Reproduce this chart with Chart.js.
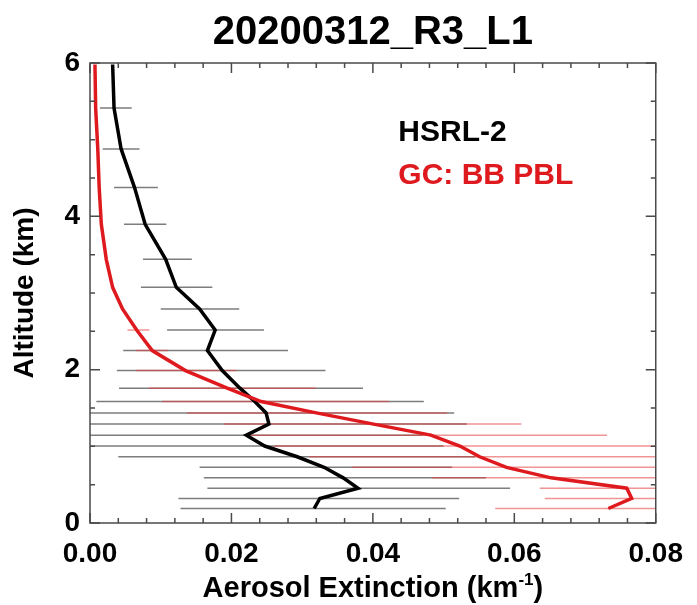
<!DOCTYPE html>
<html>
<head>
<meta charset="utf-8">
<script src="https://cdn.jsdelivr.net/npm/chart.js@4.4.1/dist/chart.umd.min.js"></script>
<style>
  html, body { margin: 0; padding: 0; background: #fff; }
  #wrap { width: 697px; height: 605px; }
</style>
</head>
<body>
<div id="wrap"><canvas id="profileChart" width="697" height="605"></canvas></div>
<script>
// flight / leg name shown as title
var chartTitle = '20200312_R3_L1';

// model level mid altitudes (km)
var altitudes = [0.189, 0.320, 0.454, 0.589, 0.726, 0.864, 1.004, 1.146, 1.290, 1.436, 1.584, 1.759,
                 1.988, 2.249, 2.517, 2.792, 3.074, 3.439, 3.896, 4.375, 4.879, 5.413, 5.980];

// HSRL-2 mean extinction and spread (km-1)
var hsrlExt  = [0.0317, 0.0325, 0.0379, 0.0358, 0.0331, 0.0293, 0.0247, 0.0221, 0.0253, 0.0249, 0.0233, 0.0212,
                0.0187, 0.0166, 0.0177, 0.0155, 0.0122, 0.0107, 0.0078, 0.0063, 0.0044, 0.0034, 0.0032];
var hsrlLow  = [0.0128, 0.0125, 0.0166, 0.0161, 0.0155, 0.0040, 0.0001, -0.0020, -0.0020, -0.0020, 0.0009, 0.0041,
                0.0038, 0.0047, 0.0109, 0.0100, 0.0072, 0.0075, 0.0048, 0.0034, 0.0018, 0.0014, null];
var hsrlHigh = [0.0503, 0.0522, 0.0594, 0.0560, 0.0512, 0.0545, 0.0500, 0.0470, 0.0533, 0.0515, 0.0472, 0.0386,
                0.0333, 0.0280, 0.0246, 0.0211, 0.0173, 0.0144, 0.0108, 0.0096, 0.0070, 0.0059, null];

// GEOS-Chem BB PBL run
var gcExt  = [0.0733, 0.0766, 0.0759, 0.0652, 0.0589, 0.0551, 0.0523, 0.0482, 0.0401, 0.0320, 0.0242, 0.0194,
              0.0135, 0.0088, 0.0066, 0.0046, 0.0032, 0.0023, 0.0016, 0.0013, 0.0011, 0.0008, 0.0007];
var gcLow  = [0.0573, 0.0643, 0.0636, 0.0484, 0.0370, 0.0310, 0.0260, 0.0225, 0.0190, 0.0137, 0.0102, 0.0083,
              0.0065, 0.0065, 0.0053, null, null, null, null, null, null, null, null];
var gcHigh = [0.0850, 0.0850, 0.0850, 0.0850, 0.0850, 0.0850, 0.0850, 0.0731, 0.0610, 0.0505, 0.0423, 0.0319,
              0.0207, 0.0110, 0.0084, null, null, null, null, null, null, null, null];

var xTicks = [0, 0.02, 0.04, 0.06, 0.08];
var yTicks = [0, 2, 4, 6];

var FONT = "'Liberation Sans', Arial, Helvetica, sans-serif";
var RED = 'rgb(222, 26, 30)';

function profile(values) {
    return altitudes.map(function (a, i) { return { x: values[i], y: a }; });
}

// each bar is two points followed by a gap
function bars(lo, hi) {
    var pts = [];
    altitudes.forEach(function (a, i) {
        if (lo[i] === null) return;
        pts.push({ x: lo[i], y: a }, { x: hi[i], y: a }, { x: null, y: null });
    });
    return pts;
}

// box, inward ticks on all four sides, title, legend text and x title
var decorations = {
    id: 'decorations',
    afterDraw: function (chart) {
        var ctx = chart.ctx, a = chart.chartArea;
        var xs = chart.scales.x, ys = chart.scales.y;
        ctx.save();

        ctx.strokeStyle = '#4a4a4a';
        ctx.lineWidth = 1.5;
        ctx.strokeRect(a.left, a.top, a.right - a.left, a.bottom - a.top);

        ctx.beginPath();
        var v, p, len;
        for (v = 0; v <= 20; v++) {
            p = xs.getPixelForValue(v * 0.004);
            len = (v % 5 === 0) ? 10 : 5;
            ctx.moveTo(p, a.bottom); ctx.lineTo(p, a.bottom - len);
            ctx.moveTo(p, a.top); ctx.lineTo(p, a.top + len);
        }
        for (v = 0; v <= 12; v++) {
            p = ys.getPixelForValue(v * 0.5);
            len = (v % 4 === 0) ? 10 : 5;
            ctx.moveTo(a.left, p); ctx.lineTo(a.left + len, p);
            ctx.moveTo(a.right, p); ctx.lineTo(a.right - len, p);
        }
        ctx.stroke();

        // title
        ctx.fillStyle = '#000';
        ctx.textAlign = 'center';
        ctx.textBaseline = 'middle';
        ctx.font = 'bold 40px ' + FONT;
        ctx.fillText(chartTitle, (a.left + a.right) / 2, 33);

        // legend as coloured text
        var ds = chart.data.datasets;
        ctx.textAlign = 'left';
        ctx.font = 'bold 30px ' + FONT;
        ctx.fillStyle = '#000';
        ctx.fillText(ds[1].label, xs.getPixelForValue(0.0436), ys.getPixelForValue(5.09));
        ctx.fillStyle = RED;
        ctx.fillText(ds[0].label, xs.getPixelForValue(0.0436), ys.getPixelForValue(4.53));

        // x axis title with superscript
        ctx.fillStyle = '#000';
        var main = 'Aerosol Extinction (km', sup = '-1', close = ')';
        ctx.font = 'bold 29px ' + FONT;
        var w1 = ctx.measureText(main).width, w3 = ctx.measureText(close).width;
        ctx.font = 'bold 17px ' + FONT;
        var w2 = ctx.measureText(sup).width;
        var x0 = (a.left + a.right) / 2 - (w1 + w2 + w3) / 2, yb = 597;
        ctx.textBaseline = 'alphabetic';
        ctx.font = 'bold 29px ' + FONT;
        ctx.fillText(main, x0, yb);
        ctx.font = 'bold 17px ' + FONT;
        ctx.fillText(sup, x0 + w1, yb - 12);
        ctx.font = 'bold 29px ' + FONT;
        ctx.fillText(close, x0 + w1 + w2, yb);
        ctx.restore();
    }
};

var ctx = document.getElementById('profileChart').getContext('2d');
new Chart(ctx, {
    type: 'scatter',
    data: {
        datasets: [{
            label: 'GC: BB PBL',
            data: profile(gcExt),
            showLine: true,
            borderColor: RED,
            borderWidth: 3.5,
            pointRadius: 0,
            order: 0
        }, {
            label: 'HSRL-2',
            data: profile(hsrlExt),
            showLine: true,
            borderColor: '#000',
            borderWidth: 3.5,
            pointRadius: 0,
            order: 1
        }, {
            label: 'GC spread',
            data: bars(gcLow, gcHigh),
            showLine: true,
            spanGaps: false,
            borderColor: 'rgba(228, 60, 60, 0.55)',
            borderWidth: 1.5,
            pointRadius: 0,
            order: 2
        }, {
            label: 'HSRL-2 spread',
            data: bars(hsrlLow, hsrlHigh),
            showLine: true,
            spanGaps: false,
            borderColor: 'rgba(70, 70, 70, 0.7)',
            borderWidth: 1.5,
            pointRadius: 0,
            order: 3
        }]
    },
    options: {
        responsive: false,
        animation: false,
        devicePixelRatio: 1,
        layout: { padding: { top: 63, right: 34, left: 0, bottom: 0 } },
        plugins: {
            legend: { display: false },
            tooltip: { enabled: false },
            title: { display: false }
        },
        scales: {
            x: {
                type: 'linear',
                min: 0,
                max: 0.08,
                afterBuildTicks: function (scale) {
                    scale.ticks = xTicks.map(function (v) { return { value: v }; });
                },
                afterFit: function (scale) { scale.height = 82; },
                grid: { display: false, drawTicks: false },
                border: { display: false },
                ticks: {
                    padding: 14,
                    maxRotation: 0,
                    color: '#000',
                    font: { family: FONT, size: 28, weight: 'bold' },
                    callback: function (v) { return v.toFixed(2); }
                }
            },
            y: {
                type: 'linear',
                min: 0,
                max: 6,
                afterBuildTicks: function (scale) {
                    scale.ticks = yTicks.map(function (v) { return { value: v }; });
                },
                afterFit: function (scale) { scale.width = 90; },
                grid: { display: false, drawTicks: false },
                border: { display: false },
                ticks: {
                    padding: 10,
                    color: '#000',
                    font: { family: FONT, size: 28, weight: 'bold' },
                    callback: function (v) { return v; }
                },
                title: {
                    display: true,
                    text: 'Altitude (km)',
                    color: '#000',
                    padding: { top: 8, bottom: 0 },
                    font: { family: FONT, size: 28, weight: 'bold' }
                }
            }
        }
    },
    plugins: [decorations]
});
</script>
</body>
</html>
